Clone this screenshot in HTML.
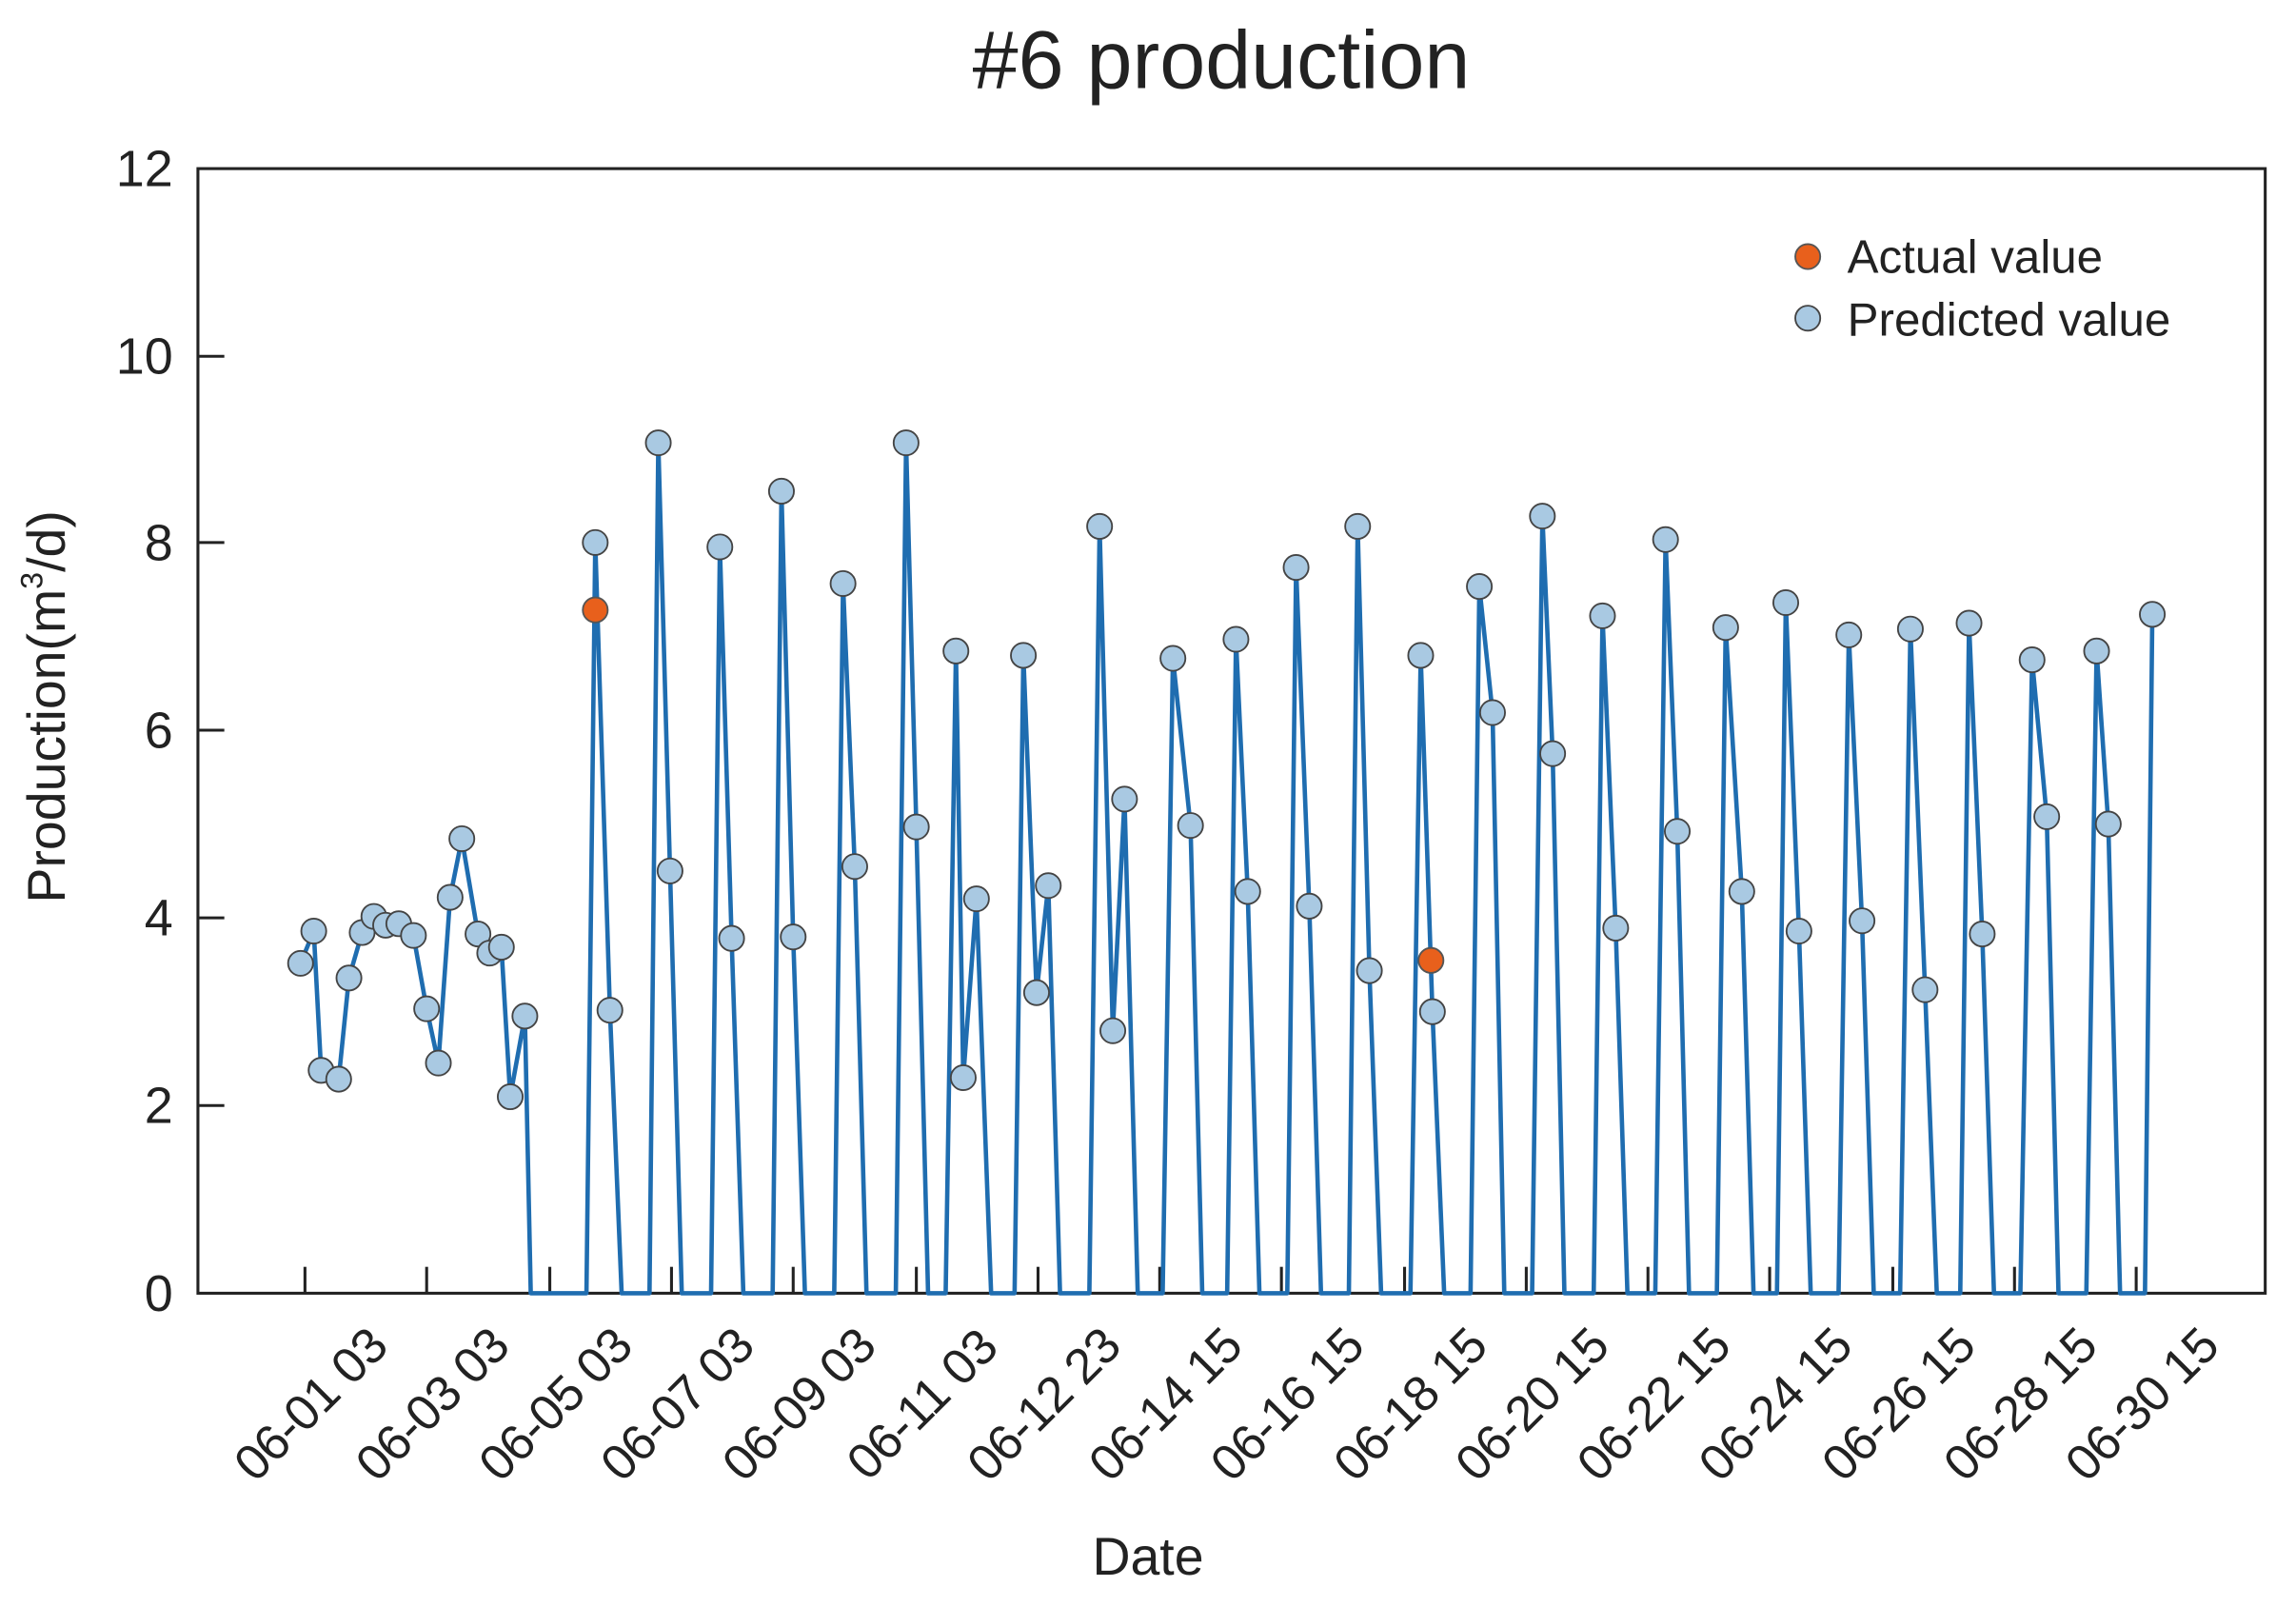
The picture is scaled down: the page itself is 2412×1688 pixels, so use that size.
<!DOCTYPE html>
<html><head><meta charset="utf-8"><style>html,body{margin:0;padding:0;background:#fff}svg{display:block}</style></head>
<body>
<svg width="2412" height="1688" viewBox="0 0 1566 1096" preserveAspectRatio="none" xmlns="http://www.w3.org/2000/svg" font-family="Liberation Sans, Arial, sans-serif">
<rect width="1566" height="1096" fill="#fff"/>
<text x="833" y="60" font-size="56" text-anchor="middle" fill="#222">#6 production</text>
<rect x="135" y="115" width="1410" height="767" fill="none" stroke="#222" stroke-width="2"/>
<g font-size="35" fill="#222" text-anchor="end">
<text x="118" y="894">0</text><text x="118" y="766">2</text><text x="118" y="638">4</text>
<text x="118" y="510">6</text><text x="118" y="382">8</text><text x="118" y="255">10</text><text x="118" y="127">12</text>
</g>
<g stroke="#222" stroke-width="2">
<line x1="135" y1="754" x2="153" y2="754"/><line x1="135" y1="626" x2="153" y2="626"/><line x1="135" y1="498" x2="153" y2="498"/><line x1="135" y1="370" x2="153" y2="370"/><line x1="135" y1="243" x2="153" y2="243"/>
</g>
<text transform="translate(44,482) rotate(-90)" font-size="36" text-anchor="middle" fill="#222">Production(m<tspan font-size="21" dy="-15">3</tspan><tspan dy="15">/d)</tspan></text>
<text x="783" y="1074" font-size="36" text-anchor="middle" fill="#222">Date</text>
<g stroke="#222" stroke-width="2">
<line x1="208" y1="864" x2="208" y2="882"/><line x1="291" y1="864" x2="291" y2="882"/><line x1="375" y1="864" x2="375" y2="882"/><line x1="458" y1="864" x2="458" y2="882"/><line x1="541" y1="864" x2="541" y2="882"/><line x1="625" y1="864" x2="625" y2="882"/><line x1="708" y1="864" x2="708" y2="882"/><line x1="791" y1="864" x2="791" y2="882"/><line x1="874" y1="864" x2="874" y2="882"/><line x1="958" y1="864" x2="958" y2="882"/><line x1="1041" y1="864" x2="1041" y2="882"/><line x1="1124" y1="864" x2="1124" y2="882"/><line x1="1207" y1="864" x2="1207" y2="882"/><line x1="1291" y1="864" x2="1291" y2="882"/><line x1="1374" y1="864" x2="1374" y2="882"/><line x1="1457" y1="864" x2="1457" y2="882"/>
</g>
<g font-size="34" fill="#222" text-anchor="middle" letter-spacing="-0.5">
<text transform="translate(220,966) rotate(-45)">06-01 03</text>
<text transform="translate(303,966) rotate(-45)">06-03 03</text>
<text transform="translate(387,966) rotate(-45)">06-05 03</text>
<text transform="translate(470,966) rotate(-45)">06-07 03</text>
<text transform="translate(553,966) rotate(-45)">06-09 03</text>
<text transform="translate(637,966) rotate(-45)">06-11 03</text>
<text transform="translate(720,966) rotate(-45)">06-12 23</text>
<text transform="translate(803,966) rotate(-45)">06-14 15</text>
<text transform="translate(886,966) rotate(-45)">06-16 15</text>
<text transform="translate(970,966) rotate(-45)">06-18 15</text>
<text transform="translate(1053,966) rotate(-45)">06-20 15</text>
<text transform="translate(1136,966) rotate(-45)">06-22 15</text>
<text transform="translate(1219,966) rotate(-45)">06-24 15</text>
<text transform="translate(1303,966) rotate(-45)">06-26 15</text>
<text transform="translate(1386,966) rotate(-45)">06-28 15</text>
<text transform="translate(1469,966) rotate(-45)">06-30 15</text>
</g>
<polyline fill="none" stroke="#1f6db0" stroke-width="3" stroke-linejoin="round" points="205,657 214,635 219,730 231,736 238,667 247,636 255,625 263,631 272,630 282,638 291,688 299,725 307,612 315,572 326,637 334,650 342,646 348,748 358,693 362,882 400,882 406,370 416,689 424,882 443,882 449,302 457,594 465,882 485,882 491,373 499,640 507,882 527,882 533,335 541,639 549,882 569,882 575,398 583,591 591,882 611,882 618,302 625,564 633,882 645,882 652,444 657,735 666,613 676,882 692,882 698,447 707,677 715,604 723,882 743,882 750,359 759,703 767,545 776,882 793,882 800,449 812,563 820,882 837,882 843,436 851,608 859,882 878,882 884,387 893,618 901,882 920,882 926,359 934,662 942,882 962,882 969,447 977,690 985,882 1003,882 1009,400 1018,486 1026,882 1045,882 1052,352 1059,514 1067,882 1087,882 1093,420 1102,633 1110,882 1129,882 1136,368 1144,567 1152,882 1171,882 1177,428 1188,608 1196,882 1212,882 1218,411 1227,635 1235,882 1254,882 1261,433 1270,628 1278,882 1296,882 1303,429 1313,675 1321,882 1337,882 1343,425 1352,637 1360,882 1378,882 1386,450 1396,557 1404,882 1423,882 1430,444 1438,562 1446,882 1463,882 1468,419"/>
<g fill="#a9c9e2" stroke="#444" stroke-width="1.2">
<circle cx="205" cy="657" r="8.5"/><circle cx="214" cy="635" r="8.5"/><circle cx="219" cy="730" r="8.5"/><circle cx="231" cy="736" r="8.5"/><circle cx="238" cy="667" r="8.5"/><circle cx="247" cy="636" r="8.5"/><circle cx="255" cy="625" r="8.5"/><circle cx="263" cy="631" r="8.5"/><circle cx="272" cy="630" r="8.5"/><circle cx="282" cy="638" r="8.5"/><circle cx="291" cy="688" r="8.5"/><circle cx="299" cy="725" r="8.5"/><circle cx="307" cy="612" r="8.5"/><circle cx="315" cy="572" r="8.5"/><circle cx="326" cy="637" r="8.5"/><circle cx="334" cy="650" r="8.5"/><circle cx="342" cy="646" r="8.5"/><circle cx="348" cy="748" r="8.5"/><circle cx="358" cy="693" r="8.5"/>
<circle cx="406" cy="370" r="8.5"/><circle cx="416" cy="689" r="8.5"/><circle cx="449" cy="302" r="8.5"/><circle cx="457" cy="594" r="8.5"/><circle cx="491" cy="373" r="8.5"/><circle cx="499" cy="640" r="8.5"/><circle cx="533" cy="335" r="8.5"/><circle cx="541" cy="639" r="8.5"/><circle cx="575" cy="398" r="8.5"/><circle cx="583" cy="591" r="8.5"/><circle cx="618" cy="302" r="8.5"/><circle cx="625" cy="564" r="8.5"/><circle cx="652" cy="444" r="8.5"/><circle cx="657" cy="735" r="8.5"/><circle cx="666" cy="613" r="8.5"/><circle cx="698" cy="447" r="8.5"/><circle cx="707" cy="677" r="8.5"/><circle cx="715" cy="604" r="8.5"/><circle cx="750" cy="359" r="8.5"/><circle cx="759" cy="703" r="8.5"/><circle cx="767" cy="545" r="8.5"/><circle cx="800" cy="449" r="8.5"/><circle cx="812" cy="563" r="8.5"/><circle cx="843" cy="436" r="8.5"/><circle cx="851" cy="608" r="8.5"/><circle cx="884" cy="387" r="8.5"/><circle cx="893" cy="618" r="8.5"/><circle cx="926" cy="359" r="8.5"/><circle cx="934" cy="662" r="8.5"/><circle cx="969" cy="447" r="8.5"/><circle cx="977" cy="690" r="8.5"/><circle cx="1009" cy="400" r="8.5"/><circle cx="1018" cy="486" r="8.5"/><circle cx="1052" cy="352" r="8.5"/><circle cx="1059" cy="514" r="8.5"/><circle cx="1093" cy="420" r="8.5"/><circle cx="1102" cy="633" r="8.5"/><circle cx="1136" cy="368" r="8.5"/><circle cx="1144" cy="567" r="8.5"/><circle cx="1177" cy="428" r="8.5"/><circle cx="1188" cy="608" r="8.5"/><circle cx="1218" cy="411" r="8.5"/><circle cx="1227" cy="635" r="8.5"/><circle cx="1261" cy="433" r="8.5"/><circle cx="1270" cy="628" r="8.5"/><circle cx="1303" cy="429" r="8.5"/><circle cx="1313" cy="675" r="8.5"/><circle cx="1343" cy="425" r="8.5"/><circle cx="1352" cy="637" r="8.5"/><circle cx="1386" cy="450" r="8.5"/><circle cx="1396" cy="557" r="8.5"/><circle cx="1430" cy="444" r="8.5"/><circle cx="1438" cy="562" r="8.5"/><circle cx="1468" cy="419" r="8.5"/>
<circle cx="1233" cy="217" r="8.5"/>
</g>
<g fill="#e8601c" stroke="#555" stroke-width="1.2">
<circle cx="406" cy="416" r="8.5"/><circle cx="976" cy="655" r="8.5"/><circle cx="1233" cy="175" r="8.5"/>
</g>
<g font-size="32" fill="#222">
<text x="1260" y="186">Actual value</text>
<text x="1260" y="229">Predicted value</text>
</g>
</svg>
</body></html>
